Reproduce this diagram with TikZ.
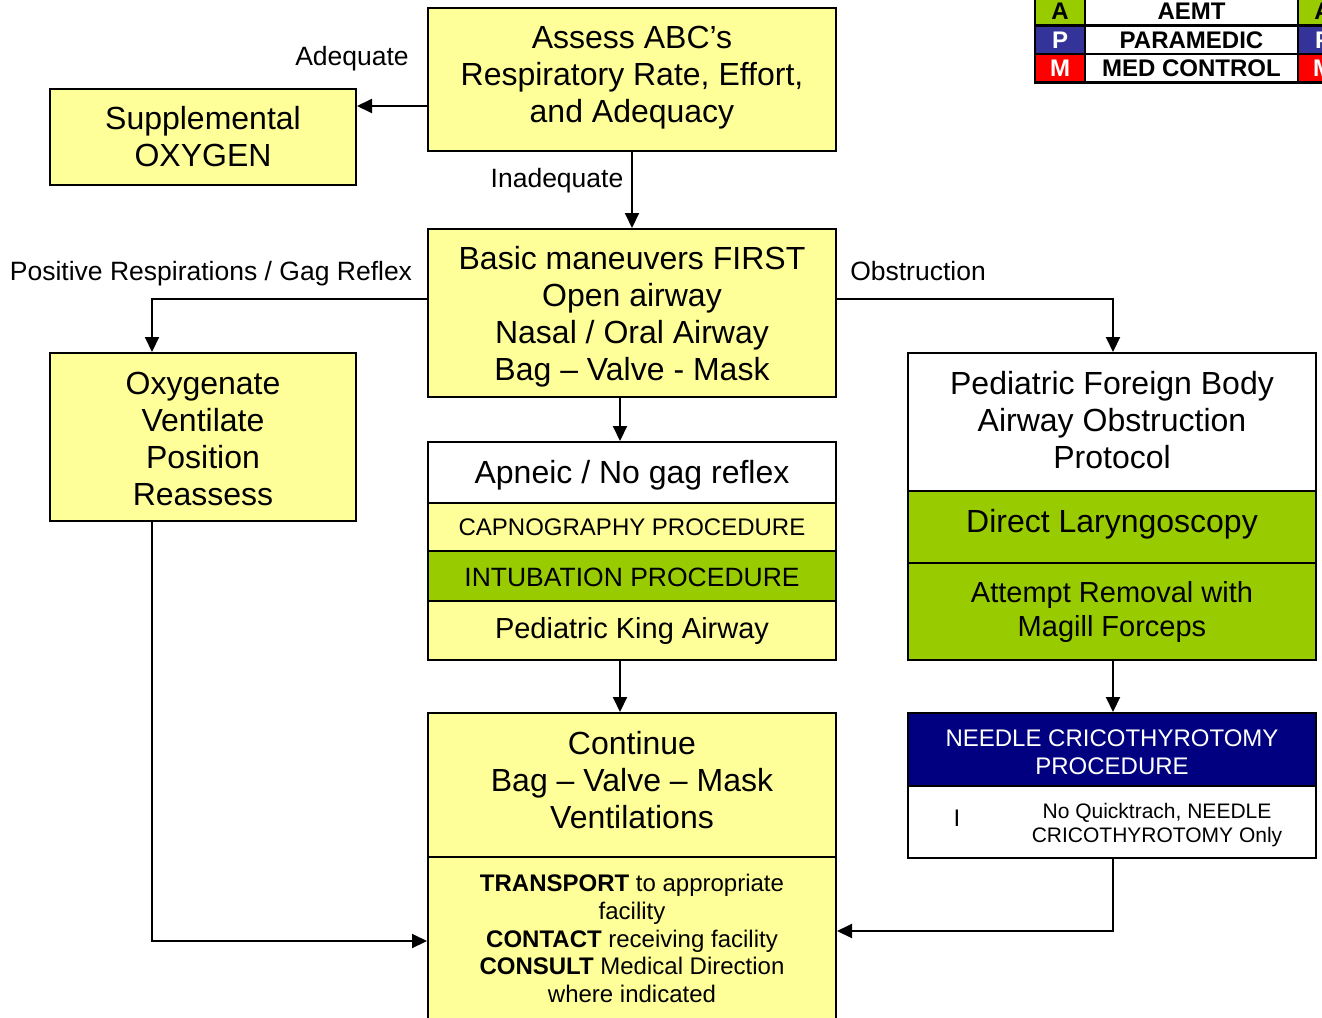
\documentclass[tikz,border=0pt]{standalone}
\usepackage{fontspec}
\setmainfont{Liberation Sans}
\usetikzlibrary{arrows.meta}
\definecolor{yel}{HTML}{FFFF99}
\definecolor{grn}{HTML}{99CC00}
\definecolor{navy}{HTML}{000080}
\definecolor{legblue}{HTML}{333399}
\definecolor{legred}{HTML}{FF0000}
\newcommand\fsz[2]{\fontsize{#1}{#2}\selectfont}
\begin{document}
\begin{tikzpicture}[x=1pt,y=-1pt,
  box/.style={draw, line width=2pt, fill=yel, minimum width=408pt, align=center, inner sep=0pt, font=\fsz{32}{37}},
  sbox/.style={box, minimum width=306pt},
  txt/.style={align=center, inner sep=0pt, font=\fsz{32}{37}},
  lab/.style={font=\fsz{26.5}{30}, inner sep=0pt},
  arr/.style={line width=2pt, -{Triangle[length=15pt,width=14pt]}},
  cell/.style={draw, line width=2.5pt, inner sep=0pt, font=\bfseries\fsz{24}{28}, minimum height=28.5pt}
]
\useasboundingbox (0,0) rectangle (1322,1017);
% legend
\node[cell, fill=grn, minimum width=50pt] (la) at (1060,11.25) {A};
\node[cell, fill=legblue, text=white, minimum width=50pt] (lp) at (1060,39.75) {P};
\node[cell, fill=legred, text=white, minimum width=50pt] (lm) at (1060,68.25) {M};
\node[cell, fill=white, minimum width=213pt] (na) at (1191.5,11.25) {AEMT};
\node[cell, fill=white, minimum width=213pt] (np) at (1191.5,39.75) {PARAMEDIC};
\node[cell, fill=white, minimum width=213pt] (nm) at (1191.5,68.25) {MED CONTROL};
\node[cell, fill=grn, minimum width=50pt] (ra) at (1323,11.25) {A};
\node[cell, fill=legblue, text=white, minimum width=50pt] (rp) at (1323,39.75) {P};
\node[cell, fill=legred, text=white, minimum width=50pt] (rm) at (1323,68.25) {M};
% boxes
\node[box, minimum height=143pt] (assess) at (632,79.5) {};
\node[txt] (assesst) at (632,77.5) {Assess ABC’s\\Respiratory Rate, Effort,\\and Adequacy};
\node[sbox, minimum height=96pt] (supp) at (203,137) {Supplemental\\OXYGEN};
\node[box, minimum height=168pt] (basic) at (632,313) {};
\node[txt] (basict) at (632,317) {Basic maneuvers FIRST\\Open airway\\Nasal / Oral Airway\\Bag – Valve - Mask};
\node[sbox, minimum height=168pt] (oxy) at (203,437) {};
\node[txt] (oxyt) at (203,438.5) {Oxygenate\\Ventilate\\Position\\Reassess};
\node[box, fill=white, minimum height=61pt] (apneic) at (632,472.5) {};
\node[txt] (apneict) at (632,475.5) {Apneic / No gag reflex};
\node[box, minimum height=48pt, font=\fsz{24}{28}] (capno) at (632,527) {CAPNOGRAPHY PROCEDURE};
\node[box, fill=grn, minimum height=50pt] (intub) at (632,576) {};
\node[txt, font=\fsz{26.5}{30}] (intubt) at (632,577) {INTUBATION PROCEDURE};
\node[box, minimum height=59pt, font=\fsz{29}{34}] (king) at (632,630.5) {Pediatric King Airway};
\node[box, fill=white, minimum height=138pt] (fb) at (1112,422) {};
\node[txt] (fbt) at (1112,420) {Pediatric Foreign Body\\Airway Obstruction\\Protocol};
\node[box, fill=grn, minimum height=72pt] (dl) at (1112,527) {};
\node[txt] (dlt) at (1112,524) {Direct Laryngoscopy};
\node[box, fill=grn, minimum height=97pt, font=\fsz{29}{34}] (rem) at (1112,611.5) {Attempt Removal with\\Magill Forceps};
\node[box, minimum height=144pt] (cont) at (632,785) {};
\node[txt] (contt) at (632,780) {Continue\\Bag – Valve – Mask\\Ventilations};
\node[box, minimum height=163pt, font=\fsz{24}{27.75}] (trans) at (632,938.5) {\textbf{TRANSPORT} to appropriate\\facility\\\textbf{CONTACT} receiving facility\\\textbf{CONSULT} Medical Direction\\where indicated};
\node[box, fill=navy, minimum height=73pt] (needle) at (1112,749.5) {};
\node[txt, text=white, font=\fsz{24}{28}] (needlet) at (1112,752.5) {NEEDLE CRICOTHYROTOMY\\PROCEDURE};
\node[box, fill=white, minimum height=72pt] (quick) at (1112,822) {};
\node[txt, font=\fsz{21}{24}] (qt) at (1157,825) {No Quicktrach, NEEDLE\\CRICOTHYROTOMY Only};
\node[txt, font=\fsz{24}{28}] (qi) at (957,818) {I};
% labels
\node[lab] (ladeq) at (352,59) {Adequate};
\node[lab] (linad) at (557,181) {Inadequate};
\node[lab] (lpos) at (211,274) {Positive Respirations / Gag Reflex};
\node[lab] (lobs) at (918,271) {Obstruction};
% connectors
\draw[arr] (assess.west |- 0,106) -- (supp.east |- 0,106);
\draw[arr] (assess.south) -- (basic.north);
\draw[arr] (basic.west |- 0,299) -| ([xshift=-51pt]oxy.north);
\draw[arr] (basic.east |- 0,299) -| ([xshift=1pt]fb.north);
\draw[arr] (basic.south -| 620,0) -- (apneic.north -| 620,0);
\draw[arr] (king.south -| 620,0) -- (cont.north -| 620,0);
\draw[arr] ([xshift=1pt]rem.south) -- ([xshift=1pt]needle.north);
\draw[arr] ([xshift=1pt]quick.south) |- (trans.east |- 0,931);
\draw[arr] ([xshift=-51pt]oxy.south) |- (trans.west |- 0,941);
\end{tikzpicture}
\end{document}
